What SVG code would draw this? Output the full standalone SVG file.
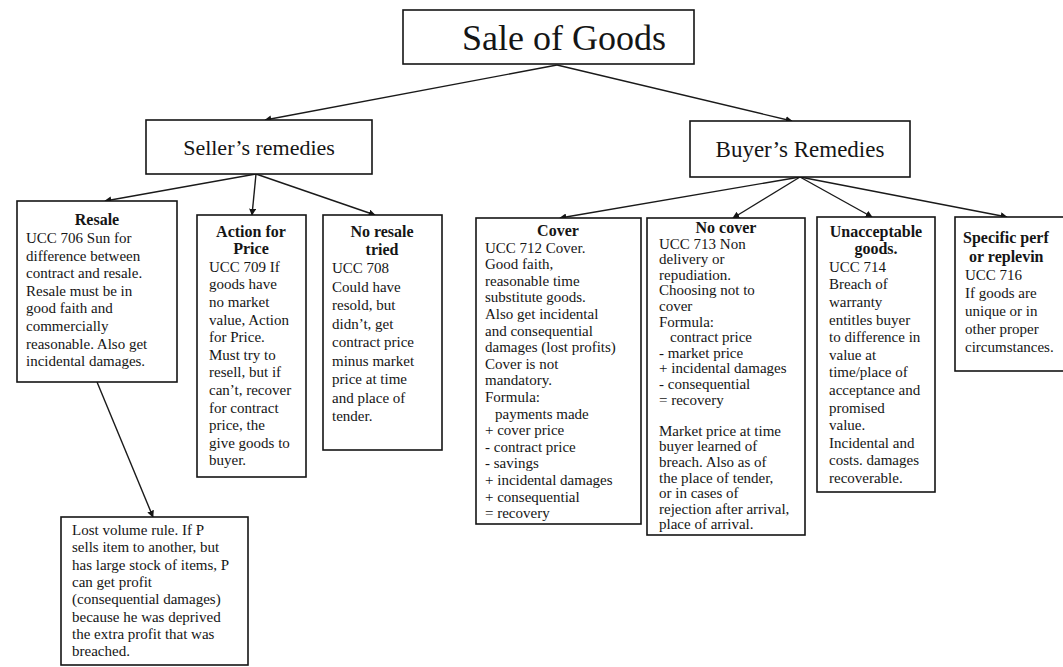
<svg xmlns="http://www.w3.org/2000/svg" width="1063" height="667" viewBox="0 0 1063 667">
<style>
.bg{fill:#fff}
.box{fill:#fff;stroke:#151515;stroke-width:1.6}
.t{font-family:"Liberation Serif","Times New Roman",serif;font-size:15px;fill:#151515}
.h{font-family:"Liberation Serif","Times New Roman",serif;font-size:16px;font-weight:bold;fill:#151515}
.m{text-anchor:middle}
.big{font-family:"Liberation Serif","Times New Roman",serif;fill:#151515}
.c{stroke:#1a1a1a;stroke-width:1.4;fill:none;marker-end:url(#ah)}
</style>
<defs>
<marker id="ah" viewBox="0 0 10 10" refX="9" refY="5" markerWidth="7" markerHeight="7" markerUnits="userSpaceOnUse" orient="auto">
<path d="M0,0 L10,5 L0,10 z" fill="#151515"/>
</marker>
</defs>
<rect class="bg" x="0" y="0" width="1063" height="667"/>

<g id="connectors">
<line class="c" x1="557" y1="65" x2="265" y2="120"/>
<line class="c" x1="557" y1="65" x2="792" y2="121"/>
<line class="c" x1="256" y1="174" x2="105" y2="201"/>
<line class="c" x1="256" y1="174" x2="252" y2="215"/>
<line class="c" x1="256" y1="174" x2="375" y2="215"/>
<line class="c" x1="800" y1="177" x2="560" y2="218"/>
<line class="c" x1="800" y1="177" x2="733" y2="218"/>
<line class="c" x1="800" y1="177" x2="872" y2="217"/>
<line class="c" x1="800" y1="177" x2="1007" y2="217"/>
<line class="c" x1="97" y1="382" x2="153" y2="517"/>
</g>

<g id="sale-of-goods">
<rect class="box" x="403" y="10" width="291" height="54"/>
<text class="big" x="462" y="50" font-size="36">Sale of Goods</text>
</g>

<g id="sellers-remedies">
<rect class="box" x="146" y="120" width="226" height="54"/>
<text class="big m" x="259" y="155" font-size="22">Seller’s remedies</text>
</g>

<g id="buyers-remedies">
<rect class="box" x="690" y="121" width="220" height="56"/>
<text class="big m" x="800" y="157" font-size="23">Buyer’s Remedies</text>
</g>

<g id="resale">
<rect class="box" x="17" y="201" width="160" height="181"/>
<text class="h m" x="97" y="225" font-size="17">Resale</text>
<text class="t">
<tspan x="26" y="243">UCC 706  Sun for</tspan>
<tspan x="26" y="260.6">difference between</tspan>
<tspan x="26" y="278.2">contract and resale.</tspan>
<tspan x="26" y="295.8">Resale must be in</tspan>
<tspan x="26" y="313.4">good faith and</tspan>
<tspan x="26" y="331">commercially</tspan>
<tspan x="26" y="348.6">reasonable. Also get</tspan>
<tspan x="26" y="366.2">incidental damages.</tspan>
</text>
</g>

<g id="action-for-price">
<rect class="box" x="197" y="215" width="109" height="262"/>
<text class="h m" x="251" y="236.5">Action for</text>
<text class="h m" x="251" y="254.1">Price</text>
<text class="t">
<tspan x="209" y="271.7">UCC 709 If</tspan>
<tspan x="209" y="289.3">goods have</tspan>
<tspan x="209" y="306.9">no market</tspan>
<tspan x="209" y="324.5">value, Action</tspan>
<tspan x="209" y="342.1">for Price.</tspan>
<tspan x="209" y="359.7">Must try to</tspan>
<tspan x="209" y="377.3">resell, but if</tspan>
<tspan x="209" y="394.9">can’t, recover</tspan>
<tspan x="209" y="412.5">for contract</tspan>
<tspan x="209" y="430.1">price, the</tspan>
<tspan x="209" y="447.7">give goods to</tspan>
<tspan x="209" y="465.3">buyer.</tspan>
</text>
</g>

<g id="no-resale-tried">
<rect class="box" x="323" y="215" width="119" height="235"/>
<text class="h m" x="382" y="236.5">No resale</text>
<text class="h m" x="382" y="254.5">tried</text>
<text class="t">
<tspan x="332" y="273">UCC 708</tspan>
<tspan x="332" y="291.5">Could have</tspan>
<tspan x="332" y="310">resold, but</tspan>
<tspan x="332" y="328.5">didn’t, get</tspan>
<tspan x="332" y="347">contract price</tspan>
<tspan x="332" y="365.5">minus market</tspan>
<tspan x="332" y="384">price at time</tspan>
<tspan x="332" y="402.5">and place of</tspan>
<tspan x="332" y="421">tender.</tspan>
</text>
</g>

<g id="lost-volume">
<rect class="box" x="61" y="517" width="187" height="148"/>
<text class="t">
<tspan x="72" y="535">Lost volume rule.  If P</tspan>
<tspan x="72" y="552.3">sells item to another, but</tspan>
<tspan x="72" y="569.6">has large stock of items, P</tspan>
<tspan x="72" y="586.9">can get profit</tspan>
<tspan x="72" y="604.2">(consequential damages)</tspan>
<tspan x="72" y="621.5">because he was deprived</tspan>
<tspan x="72" y="638.8">the extra profit that was</tspan>
<tspan x="72" y="656.1">breached.</tspan>
</text>
</g>

<g id="cover">
<rect class="box" x="476" y="218" width="165" height="306"/>
<text class="h m" x="558" y="236" font-size="17">Cover</text>
<text class="t" font-size="14.5">
<tspan x="485" y="252.6">UCC 712 Cover.</tspan>
<tspan x="485" y="269.2">Good faith,</tspan>
<tspan x="485" y="285.8">reasonable time</tspan>
<tspan x="485" y="302.4">substitute goods.</tspan>
<tspan x="485" y="319">Also get incidental</tspan>
<tspan x="485" y="335.6">and consequential</tspan>
<tspan x="485" y="352.2">damages (lost profits)</tspan>
<tspan x="485" y="368.8">Cover is not</tspan>
<tspan x="485" y="385.4">mandatory.</tspan>
<tspan x="485" y="402">Formula:</tspan>
<tspan x="495" y="418.6">payments made</tspan>
<tspan x="485" y="435.2">+ cover price</tspan>
<tspan x="485" y="451.8">- contract price</tspan>
<tspan x="485" y="468.4">- savings</tspan>
<tspan x="485" y="485">+ incidental damages</tspan>
<tspan x="485" y="501.6">+ consequential</tspan>
<tspan x="485" y="518.2">= recovery</tspan>
</text>
</g>

<g id="no-cover">
<rect class="box" x="647" y="218" width="158" height="317"/>
<text class="h m" x="726" y="233">No cover</text>
<text class="t" font-size="14">
<tspan x="659" y="248.6">UCC 713 Non</tspan>
<tspan x="659" y="264.2">delivery or</tspan>
<tspan x="659" y="279.8">repudiation.</tspan>
<tspan x="659" y="295.4">Choosing not to</tspan>
<tspan x="659" y="311">cover</tspan>
<tspan x="659" y="326.6">Formula:</tspan>
<tspan x="670" y="342.2">contract price</tspan>
<tspan x="659" y="357.8">-  market price</tspan>
<tspan x="659" y="373.4">+ incidental damages</tspan>
<tspan x="659" y="389">- consequential</tspan>
<tspan x="659" y="404.6">= recovery</tspan>
<tspan x="659" y="435.8">Market price at time</tspan>
<tspan x="659" y="451.4">buyer learned of</tspan>
<tspan x="659" y="467">breach.  Also as of</tspan>
<tspan x="659" y="482.6">the place of tender,</tspan>
<tspan x="659" y="498.2">or in cases of</tspan>
<tspan x="659" y="513.8">rejection after arrival,</tspan>
<tspan x="659" y="529.4">place of arrival.</tspan>
</text>
</g>

<g id="unacceptable-goods">
<rect class="box" x="817" y="217" width="118" height="275"/>
<text class="h m" x="876" y="236.5">Unacceptable</text>
<text class="h m" x="876" y="254.1">goods.</text>
<text class="t">
<tspan x="829" y="271.7">UCC 714</tspan>
<tspan x="829" y="289.3">Breach of</tspan>
<tspan x="829" y="306.9">warranty</tspan>
<tspan x="829" y="324.5">entitles buyer</tspan>
<tspan x="829" y="342.1">to difference in</tspan>
<tspan x="829" y="359.7">value at</tspan>
<tspan x="829" y="377.3">time/place of</tspan>
<tspan x="829" y="394.9">acceptance and</tspan>
<tspan x="829" y="412.5">promised</tspan>
<tspan x="829" y="430.1">value.</tspan>
<tspan x="829" y="447.7">Incidental and</tspan>
<tspan x="829" y="465.3">costs. damages</tspan>
<tspan x="829" y="482.9">recoverable.</tspan>
</text>
</g>

<g id="specific-performance">
<rect class="box" x="955" y="217" width="120" height="154"/>
<text class="h" x="963" y="243" font-size="18.5">Specific perf</text>
<text class="h" x="969" y="262" font-size="18.5">or replevin</text>
<text class="t">
<tspan x="965" y="280">UCC 716</tspan>
<tspan x="965" y="298">If goods are</tspan>
<tspan x="965" y="316">unique or in</tspan>
<tspan x="965" y="334">other proper</tspan>
<tspan x="965" y="352">circumstances.</tspan>
</text>
</g>
</svg>
